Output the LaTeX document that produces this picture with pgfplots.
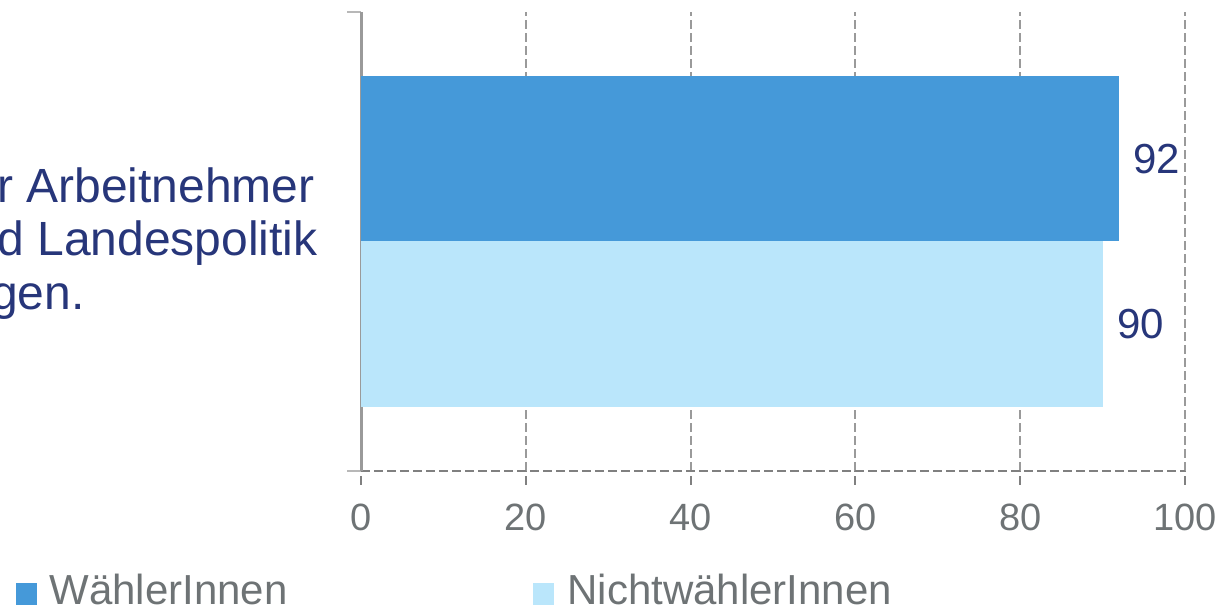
\documentclass[border=0pt]{standalone}
\usepackage{pgfplots}
\pgfplotsset{compat=1.18}
\usepackage{fontspec}
\setmainfont{Liberation Sans}

\definecolor{waehler}{HTML}{4599D9}
\definecolor{nichtwaehler}{HTML}{BAE6FB}
\definecolor{labelblue}{HTML}{27367A}
\definecolor{textgrey}{HTML}{6E7375}
\definecolor{gridgrey}{HTML}{9A9A9A}
\definecolor{axisgrey}{HTML}{808080}

\begin{document}
\begin{tikzpicture}
\useasboundingbox (0,0) rectangle (611.5pt,305pt);
\clip (0,0) rectangle (611.5pt,305pt);

% category label (left-aligned text block, partly outside the page)
\begin{scope}[every node/.style={anchor=base east, inner sep=0pt, text=labelblue,
    font=\fontsize{24}{27}\selectfont}]
  \node at (157.5pt,203.5pt) {der Arbeitnehmer};
  \node at (159pt,177pt) {und Landespolitik};
  \node at (42.5pt,150pt) {berücksichtigen.};
\end{scope}

\begin{axis}[
  at={(180.5pt,69.5pt)}, anchor=south west,
  scale only axis, width=412pt, height=229.5pt,
  xmin=0, xmax=100, ymin=-0.5, ymax=0.5,
  xbar, bar width=0.36,
  axis x line*=bottom, axis y line*=left,
  x axis line style={draw=axisgrey, line width=1.1pt, dash pattern=on 4.5pt off 2pt},
  y axis line style={draw=gridgrey, line width=1.5pt},
  xtick={0,20,...,100},
  ytick={-0.5,0.5}, yticklabels={},
  tick align=outside, major tick length=7pt,
  xtick style={draw=axisgrey, line width=1pt, dash pattern=on 4.5pt off 2pt},
  ytick style={draw=gridgrey!70, line width=1pt, solid},
  xmajorgrids,
  grid style={draw=gridgrey, line width=1pt, dash pattern=on 4.5pt off 2pt},
  /pgf/number format/assume math mode=true,
  xticklabel style={font=\fontsize{19}{19}\selectfont, text=textgrey, anchor=base, yshift=-23pt},
  nodes near coords,
  every node near coord/.append style={anchor=west, inner sep=0pt, xshift=7pt,
    text=labelblue, font=\fontsize{21}{21}\selectfont},
]
\addplot[fill=waehler, draw=none, bar shift=0] coordinates {(92,0.18)};
\addplot[fill=nichtwaehler, draw=none, bar shift=0] coordinates {(90,-0.18)};
\end{axis}

% legend
\fill[waehler] (8pt,2.5pt) rectangle (18.5pt,13.5pt);
\node[anchor=base west, inner sep=0pt, text=textgrey, font=\fontsize{21}{21}\selectfont]
  at (24.5pt,2.5pt) {WählerInnen};
\fill[nichtwaehler] (266.5pt,2.5pt) rectangle (277pt,13.5pt);
\node[anchor=base west, inner sep=0pt, text=textgrey, font=\fontsize{21}{21}\selectfont]
  at (283.5pt,2.5pt) {NichtwählerInnen};
\end{tikzpicture}
\end{document}
